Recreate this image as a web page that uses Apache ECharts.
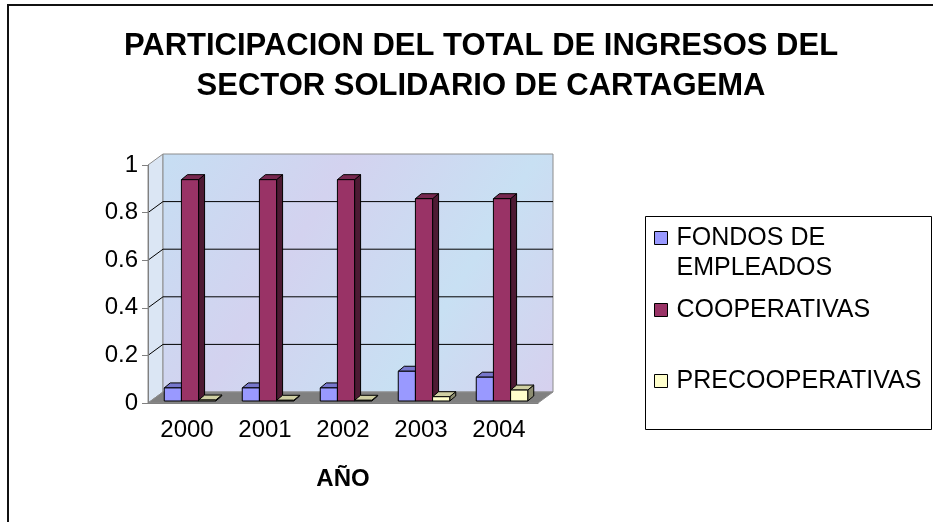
<!DOCTYPE html>
<html>
<head>
<meta charset="utf-8">
<script src="https://cdn.jsdelivr.net/npm/echarts@6/dist/echarts.min.js"></script>
<style>
  html, body { margin: 0; padding: 0; background: #fff; }
  #main { width: 933px; height: 522px; }
</style>
</head>
<body>
<div id="main"></div>
<script>
var years = ['2000', '2001', '2002', '2003', '2004'];
var fondos = [0.055, 0.055, 0.055, 0.125, 0.10];
var cooperativas = [0.93, 0.93, 0.93, 0.85, 0.85];
var precooperativas = [0.004, 0.003, 0.003, 0.018, 0.046];
var yTicks = [0.2, 0.4, 0.6, 0.8, 1];

var FONT = '"Liberation Sans", Arial, sans-serif';
// depth of the back wall and of each bar
var DX = 15, DY = -11;
var OX = 3, OY = -2;
var BDX = 6, BDY = -5;

var faces = [
    { front: '#9999ff', top: '#7777cc', side: '#4d4d80' },
    { front: '#993366', top: '#77284f', side: '#4d1a33' },
    { front: '#ffffcc', top: '#cfcfa3', side: '#8c8c70' }
];

function renderWalls(params, api) {
    var cs = params.coordSys;
    var x = cs.x, y = cs.y, w = cs.width, h = cs.height;
    var children = [
        { type: 'polygon', shape: { points: [[x, y], [x + DX, y + DY], [x + DX, y + h + DY], [x, y + h]] },
          style: { fill: '#dbe6f4', stroke: '#8c8c8c', lineWidth: 1 } },
        { type: 'rect', shape: { x: x + DX, y: y + DY, width: w, height: h },
          style: {
              fill: new echarts.graphic.LinearGradient(0, 0, 1, 1, [
                  { offset: 0, color: '#c6def3' },
                  { offset: 0.35, color: '#d3d2ef' },
                  { offset: 0.7, color: '#c8e0f3' },
                  { offset: 1, color: '#d6d0ee' }
              ]),
              stroke: '#8c8c8c', lineWidth: 1
          } },
        { type: 'polygon', shape: { points: [[x, y + h], [x + DX, y + h + DY], [x + w + DX, y + h + DY], [x + w, y + h]] },
          style: { fill: '#808080', stroke: '#8c8c8c', lineWidth: 1 } }
    ];
    yTicks.forEach(function (v) {
        if (v >= 1) return;
        var yy = api.coord([0, v])[1];
        children.push({ type: 'line', shape: { x1: x, y1: yy, x2: x + DX, y2: yy + DY }, style: { stroke: '#000', lineWidth: 1 } });
        children.push({ type: 'line', shape: { x1: x + DX, y1: yy + DY, x2: x + w + DX, y2: yy + DY }, style: { stroke: '#000', lineWidth: 1 } });
    });
    return { type: 'group', children: children, silent: true };
}

function barRenderer(s) {
    return function (params, api) {
        var catW = api.size([1, 0])[0];
        var bw = catW * 0.22;
        var base = api.coord([api.value(0), 0]);
        var top = api.coord([api.value(0), api.value(1)])[1] + OY;
        var y0 = base[1] + OY;
        var x0 = base[0] - 1.5 * bw + s * bw + OX;
        var c = faces[s];
        var st = { stroke: '#000', lineWidth: 1 };
        return {
            type: 'group',
            children: [
                { type: 'polygon', shape: { points: [[x0 + bw, top], [x0 + bw + BDX, top + BDY], [x0 + bw + BDX, y0 + BDY], [x0 + bw, y0]] },
                  style: Object.assign({ fill: c.side }, st) },
                { type: 'polygon', shape: { points: [[x0, top], [x0 + BDX, top + BDY], [x0 + bw + BDX, top + BDY], [x0 + bw, top]] },
                  style: Object.assign({ fill: c.top }, st) },
                { type: 'rect', shape: { x: x0, y: top, width: bw, height: y0 - top },
                  style: Object.assign({ fill: c.front }, st) }
            ]
        };
    };
}

function toData(arr) {
    return arr.map(function (v, i) { return [i, v]; });
}

var legendBase = {
    orient: 'vertical',
    left: 654,
    padding: 0,
    itemWidth: 13,
    itemHeight: 13,
    itemGap: 0,
    selectedMode: false,
    icon: 'rect',
    itemStyle: { borderColor: '#000', borderWidth: 1 },
    textStyle: { fontSize: 25, fontFamily: FONT, color: '#000', lineHeight: 30, padding: [0, 0, 0, 4] }
};

var myChart = echarts.init(document.getElementById('main'));

myChart.setOption({
    backgroundColor: '#fff',
    animation: false,
    title: {
        text: 'PARTICIPACION DEL TOTAL DE INGRESOS DEL\nSECTOR SOLIDARIO DE CARTAGEMA',
        left: 476,
        top: 21,
        textAlign: 'center',
        textStyle: { fontSize: 31, fontWeight: 'bold', fontFamily: FONT, color: '#000', lineHeight: 40 }
    },
    graphic: [
        { type: 'rect', shape: { x: 8, y: 5, width: 960, height: 560 }, style: { fill: 'none', stroke: '#111', lineWidth: 2 }, silent: true },
        { type: 'rect', shape: { x: 645.5, y: 216.5, width: 286, height: 213 }, style: { fill: '#fff', stroke: '#000', lineWidth: 1 }, silent: true, z: -1 }
    ],
    legend: [
        Object.assign({}, legendBase, { top: 193, data: ['FONDOS DE EMPLEADOS'],
            formatter: function () { return '\nFONDOS DE\nEMPLEADOS'; } }),
        Object.assign({}, legendBase, { top: 295, data: ['COOPERATIVAS'] }),
        Object.assign({}, legendBase, { top: 366, data: ['PRECOOPERATIVAS'] })
    ],
    grid: { left: 148, top: 165, width: 390, height: 238 },
    xAxis: {
        type: 'category',
        data: years,
        name: 'AÑO',
        nameLocation: 'middle',
        nameGap: 64,
        nameTextStyle: { fontSize: 24, fontWeight: 'bold', fontFamily: FONT, color: '#000' },
        axisLine: { lineStyle: { color: '#808080' } },
        axisTick: { length: 6, lineStyle: { color: '#808080' } },
        axisLabel: { fontSize: 24, fontFamily: FONT, color: '#000', margin: 15 },
        splitLine: { show: false }
    },
    yAxis: {
        type: 'value',
        min: 0,
        max: 1,
        interval: 0.2,
        axisLine: { show: true, lineStyle: { color: '#808080' } },
        axisTick: { show: true, length: 6, lineStyle: { color: '#808080' } },
        axisLabel: { fontSize: 24, fontFamily: FONT, color: '#000', margin: 10 },
        splitLine: { show: false }
    },
    series: [
        { type: 'custom', name: 'walls', renderItem: renderWalls, data: [[0, 0]], z: 0, silent: true },
        { type: 'custom', name: 'FONDOS DE EMPLEADOS', renderItem: barRenderer(0), data: toData(fondos),
          itemStyle: { color: faces[0].front }, z: 2 },
        { type: 'custom', name: 'COOPERATIVAS', renderItem: barRenderer(1), data: toData(cooperativas),
          itemStyle: { color: faces[1].front }, z: 2 },
        { type: 'custom', name: 'PRECOOPERATIVAS', renderItem: barRenderer(2), data: toData(precooperativas),
          itemStyle: { color: faces[2].front }, z: 2 }
    ]
});
</script>
</body>
</html>
